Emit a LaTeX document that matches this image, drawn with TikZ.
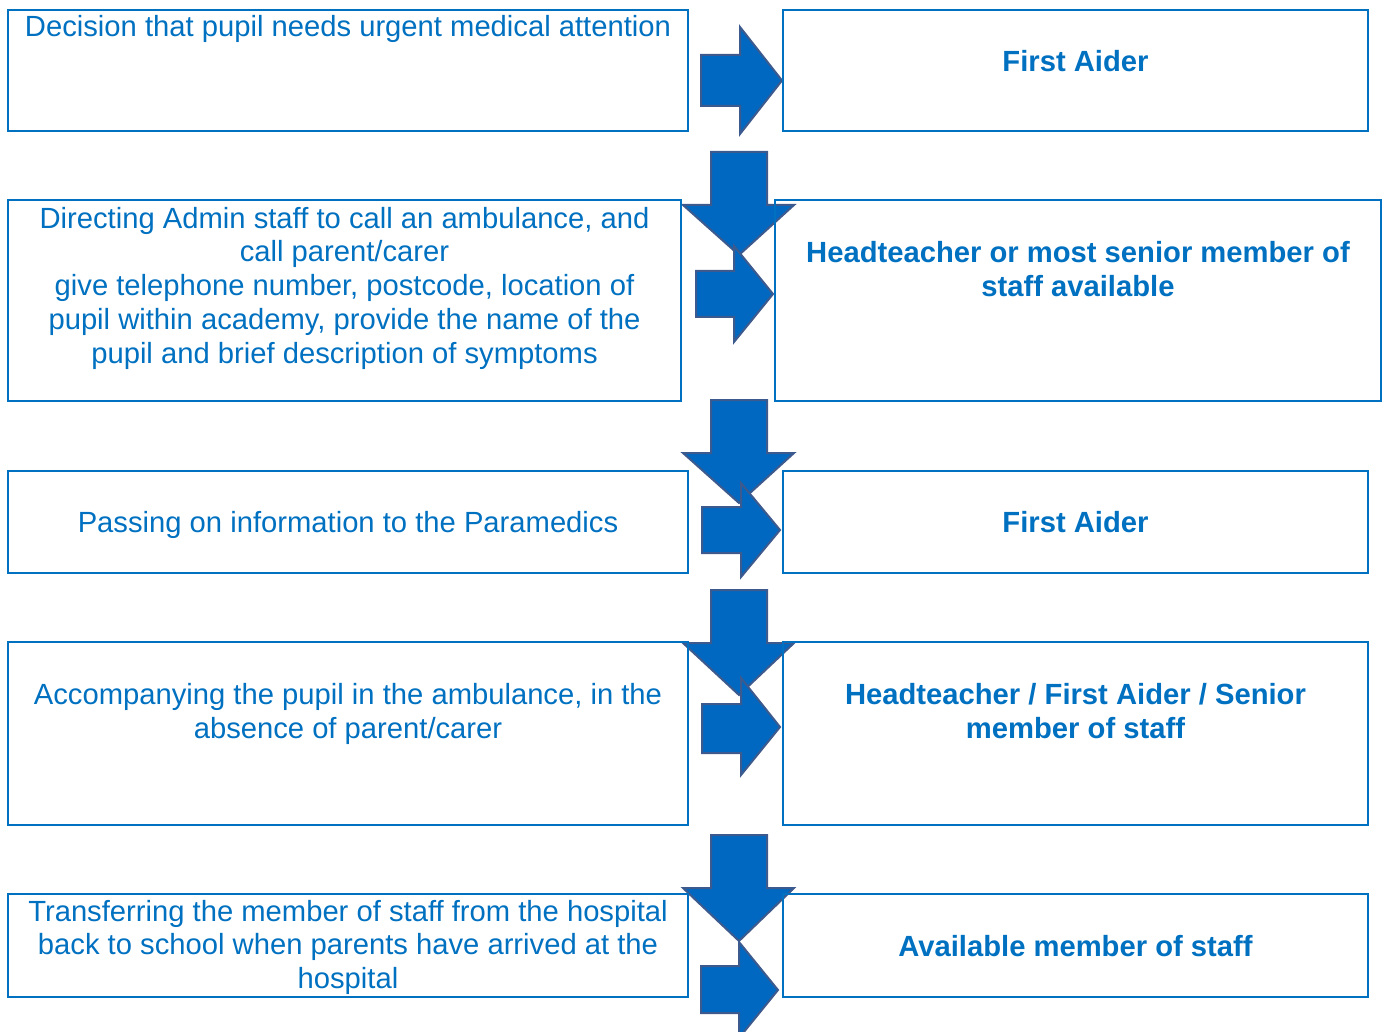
\documentclass[tikz,border=0pt]{standalone}
\usepackage{fontspec}
\setmainfont{Liberation Sans}
\definecolor{boxblue}{HTML}{0070C0}
\definecolor{arrowfill}{HTML}{0068C0}
\definecolor{arrowline}{HTML}{3C5A8E}
\begin{document}
\begin{tikzpicture}[x=1pt,y=-1pt,
  box/.style={draw=boxblue, line width=2pt, inner sep=0pt, outer sep=0pt, rectangle},
  txt/.style={text=boxblue, align=center, inner sep=0pt, font=\fontsize{29.2}{33.8}\selectfont},
  btxt/.style={txt, font=\fontsize{29.2}{33.8}\selectfont\bfseries},
  blockarrow/.style={fill=arrowfill, draw=arrowline, line width=2pt, line join=miter}]
\useasboundingbox (0,0) rectangle (1384,1032);
\clip (0,0) rectangle (1384,1032);

% down arrows
\foreach \t/\b/\p in {152/205/255, 400/453/503, 590/643/695, 835/888/941}{
  \draw[blockarrow] (711,\t) -- (767,\t) -- (767,\b) -- (794,\b) -- (739,\p) -- (683,\b) -- (711,\b) -- cycle;
}
% right arrows
\foreach \l/\s/\e/\h/\H/\k/\tx/\ty in {701/55/106/740/27/134/782/80.5, 696/271/317/734/246/342/773/294, 702/507/553/741/483/577/780/530, 702/704/753/741/678/775/780/727, 701/966/1013/739/942/1038/778/990}{
  \draw[blockarrow] (\l,\s) -- (\h,\s) -- (\h,\H) -- (\tx,\ty) -- (\h,\k) -- (\h,\e) -- (\l,\e) -- cycle;
}

% boxes
\node[box, minimum width=680pt, minimum height=121pt] (L1) at (348,70.5) {};
\node[box, minimum width=585pt, minimum height=121pt] (R1) at (1075.5,70.5) {};
\node[box, minimum width=673pt, minimum height=201pt] (L2) at (344.5,300.5) {};
\node[box, minimum width=606pt, minimum height=201pt] (R2) at (1078,300.5) {};
\node[box, minimum width=680pt, minimum height=102pt] (L3) at (348,522) {};
\node[box, minimum width=585pt, minimum height=102pt] (R3) at (1075.5,522) {};
\node[box, minimum width=680pt, minimum height=183pt] (L4) at (348,733.5) {};
\node[box, minimum width=585pt, minimum height=183pt] (R4) at (1075.5,733.5) {};
\node[box, minimum width=680pt, minimum height=103pt] (L5) at (348,945.5) {};
\node[box, minimum width=585pt, minimum height=103pt] (R5) at (1075.5,945.5) {};

% texts (anchor=base is the baseline of the last line)
\node[txt, anchor=base] (T1) at (348,37) {Decision that pupil needs urgent medical attention};
\node[btxt, anchor=base] (U1) at (1075.5,72) {First Aider};
\node[txt, anchor=base] (T2) at (344.5,363.2) {Directing Admin staff to call an ambulance, and\\call parent/carer\\give telephone number, postcode, location of\\pupil within academy, provide the name of the\\pupil and brief description of symptoms};
\node[btxt, anchor=base] (U2) at (1078,296.8) {Headteacher or most senior member of\\staff available};
\node[txt, anchor=base] (T3) at (348,532) {Passing on information to the Paramedics};
\node[btxt, anchor=base] (U3) at (1075.5,532) {First Aider};
\node[txt, anchor=base] (T4) at (348,738) {Accompanying the pupil in the ambulance, in the\\absence of parent/carer};
\node[btxt, anchor=base] (U4) at (1075.5,738) {Headteacher / First Aider / Senior\\member of staff};
\node[txt, anchor=base] (T5) at (348,988.6) {Transferring the member of staff from the hospital\\back to school when parents have arrived at the\\hospital};
\node[btxt, anchor=base] (U5) at (1075.5,956) {Available member of staff};
\end{tikzpicture}
\end{document}
